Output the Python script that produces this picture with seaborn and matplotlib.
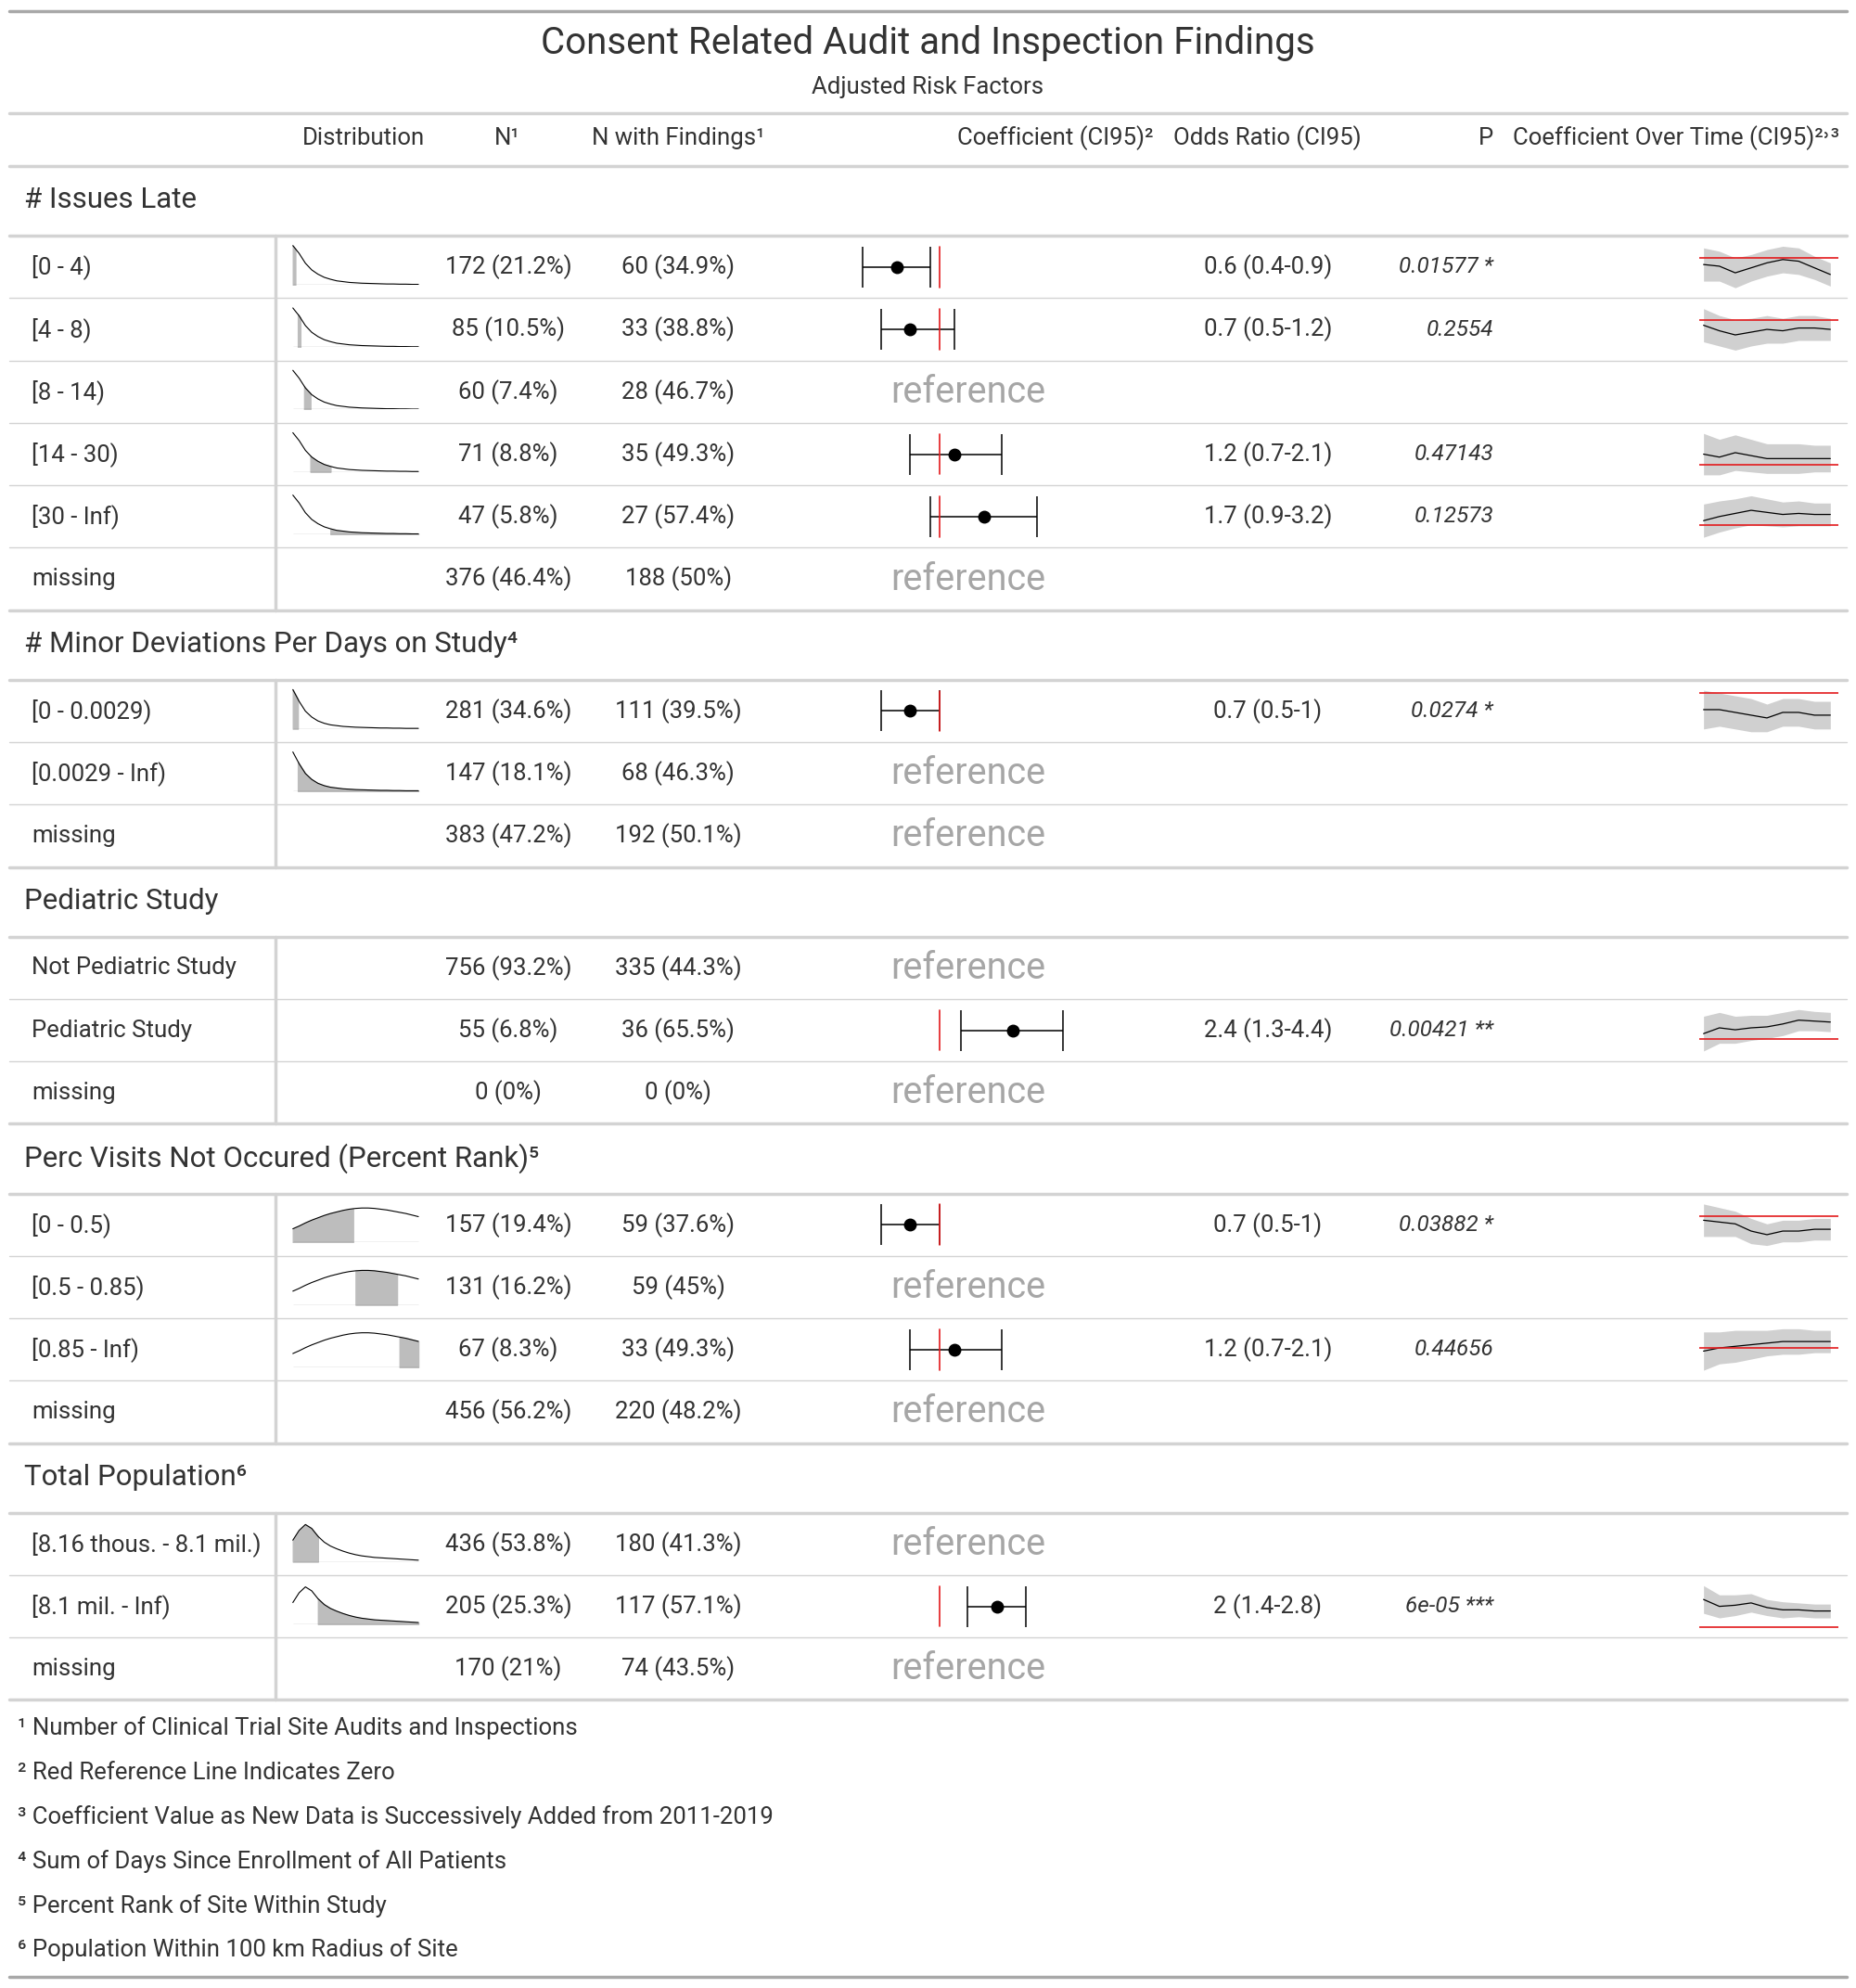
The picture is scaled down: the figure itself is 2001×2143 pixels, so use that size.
import matplotlib
matplotlib.use("Agg")
import matplotlib.pyplot as plt
import numpy as np
import seaborn as sns

sns.set_style("white")
plt.rcParams["font.family"] = ["Roboto", "DejaVu Sans"]

W, H = 1464, 1568
TXT = "#333333"
GRID = "#d3d3d3"

title = "Consent Related Audit and Inspection Findings"
subtitle = "Adjusted Risk Factors"

groups = ["# Issues Late", "# Minor Deviations Per Days on Study⁴", "Pediatric Study",
          "Perc Visits Not Occured (Percent Rank)⁵", "Total Population⁶"]
labels = [
    ["[0 - 4)", "[4 - 8)", "[8 - 14)", "[14 - 30)", "[30 - Inf)", "missing"],
    ["[0 - 0.0029)", "[0.0029 - Inf)", "missing"],
    ["Not Pediatric Study", "Pediatric Study", "missing"],
    ["[0 - 0.5)", "[0.5 - 0.85)", "[0.85 - Inf)", "missing"],
    ["[8.16 thous. - 8.1 mil.)", "[8.1 mil. - Inf)", "missing"],
]
n_col = [
    ["172 (21.2%)", "85 (10.5%)", "60 (7.4%)", "71 (8.8%)", "47 (5.8%)", "376 (46.4%)"],
    ["281 (34.6%)", "147 (18.1%)", "383 (47.2%)"],
    ["756 (93.2%)", "55 (6.8%)", "0 (0%)"],
    ["157 (19.4%)", "131 (16.2%)", "67 (8.3%)", "456 (56.2%)"],
    ["436 (53.8%)", "205 (25.3%)", "170 (21%)"],
]
nf_col = [
    ["60 (34.9%)", "33 (38.8%)", "28 (46.7%)", "35 (49.3%)", "27 (57.4%)", "188 (50%)"],
    ["111 (39.5%)", "68 (46.3%)", "192 (50.1%)"],
    ["335 (44.3%)", "36 (65.5%)", "0 (0%)"],
    ["59 (37.6%)", "59 (45%)", "33 (49.3%)", "220 (48.2%)"],
    ["180 (41.3%)", "117 (57.1%)", "74 (43.5%)"],
]
# odds ratio, lower, upper (None = reference)
odds = [
    [(0.6, 0.4, 0.9), (0.7, 0.5, 1.2), None, (1.2, 0.7, 2.1), (1.7, 0.9, 3.2), None],
    [(0.7, 0.5, 1.0), None, None],
    [None, (2.4, 1.3, 4.4), None],
    [(0.7, 0.5, 1.0), None, (1.2, 0.7, 2.1), None],
    [None, (2.0, 1.4, 2.8), None],
]
or_text = [
    ["0.6 (0.4-0.9)", "0.7 (0.5-1.2)", "", "1.2 (0.7-2.1)", "1.7 (0.9-3.2)", ""],
    ["0.7 (0.5-1)", "", ""],
    ["", "2.4 (1.3-4.4)", ""],
    ["0.7 (0.5-1)", "", "1.2 (0.7-2.1)", ""],
    ["", "2 (1.4-2.8)", ""],
]
p_text = [
    ["0.01577 *", "0.2554", "", "0.47143", "0.12573", ""],
    ["0.0274 *", "", ""],
    ["", "0.00421 **", ""],
    ["0.03882 *", "", "0.44656", ""],
    ["", "6e-05 ***", ""],
]
# distribution curves (density shape per variable) and shaded fraction per row
dist_curves = [
    [1.0, 0.8, 0.55, 0.38, 0.27, 0.19, 0.14, 0.1, 0.08, 0.06, 0.05, 0.04, 0.035, 0.03, 0.025, 0.02, 0.02, 0.015, 0.015, 0.01, 0.01],
    [1.0, 0.7, 0.45, 0.3, 0.2, 0.14, 0.1, 0.08, 0.06, 0.05, 0.04, 0.035, 0.03, 0.025, 0.02, 0.02, 0.015, 0.015, 0.01, 0.01, 0.01],
    None,
    [0.35, 0.42, 0.5, 0.57, 0.63, 0.69, 0.74, 0.78, 0.82, 0.85, 0.87, 0.88, 0.88, 0.87, 0.85, 0.83, 0.8, 0.77, 0.74, 0.7, 0.66],
    [0.55, 0.8, 0.95, 0.85, 0.65, 0.5, 0.4, 0.33, 0.27, 0.22, 0.18, 0.15, 0.13, 0.11, 0.1, 0.09, 0.08, 0.07, 0.06, 0.05, 0.04],
]
dist_shade = [
    [(0.0, 0.02), (0.04, 0.06), (0.09, 0.14), (0.14, 0.3), (0.3, 1.0), None],
    [(0.0, 0.04), (0.04, 1.0), None],
    [None, None, None],
    [(0.0, 0.48), (0.5, 0.83), (0.85, 1.0), None],
    [(0.0, 0.2), (0.2, 1.0), None],
]
years = list(range(2011, 2020))
trend_coef = [
    [-0.2, -0.25, -0.45, -0.3, -0.15, -0.05, -0.1, -0.3, -0.5],
    [-0.2, -0.4, -0.55, -0.45, -0.35, -0.4, -0.3, -0.3, -0.35],
    [0.35, 0.25, 0.4, 0.3, 0.2, 0.2, 0.2, 0.2, 0.2],
    [0.2, 0.4, 0.55, 0.7, 0.6, 0.5, 0.55, 0.5, 0.5],
    [-0.3, -0.3, -0.35, -0.4, -0.45, -0.35, -0.35, -0.4, -0.4],
    [0.3, 0.6, 0.5, 0.6, 0.65, 0.8, 1.0, 0.95, 0.9],
    [-0.1, -0.15, -0.2, -0.4, -0.5, -0.4, -0.4, -0.35, -0.35],
    [-0.1, 0.0, 0.05, 0.1, 0.15, 0.2, 0.2, 0.2, 0.2],
    [1.2, 0.9, 0.95, 1.05, 0.85, 0.75, 0.75, 0.7, 0.7],
]
trend_half = [
    [0.5, 0.45, 0.45, 0.4, 0.4, 0.4, 0.4, 0.35, 0.35],
    [0.6, 0.55, 0.55, 0.5, 0.5, 0.45, 0.45, 0.45, 0.4],
    [0.7, 0.6, 0.6, 0.55, 0.5, 0.5, 0.5, 0.45, 0.45],
    [0.8, 0.75, 0.7, 0.7, 0.65, 0.6, 0.6, 0.55, 0.55],
    [0.35, 0.3, 0.3, 0.3, 0.25, 0.25, 0.25, 0.25, 0.25],
    [0.9, 0.8, 0.7, 0.65, 0.6, 0.6, 0.55, 0.5, 0.5],
    [0.45, 0.4, 0.35, 0.35, 0.3, 0.3, 0.3, 0.3, 0.3],
    [0.6, 0.5, 0.5, 0.45, 0.4, 0.4, 0.4, 0.35, 0.35],
    [0.6, 0.5, 0.45, 0.4, 0.35, 0.35, 0.3, 0.3, 0.3],
]
footnotes = [
    "¹ Number of Clinical Trial Site Audits and Inspections",
    "² Red Reference Line Indicates Zero",
    "³ Coefficient Value as New Data is Successively Added from 2011-2019",
    "⁴ Sum of Days Since Enrollment of All Patients",
    "⁵ Percent Rank of Site Within Study",
    "⁶ Population Within 100 km Radius of Site",
]

BODY = 18.5
fig = plt.figure(figsize=(20.01, 21.43), dpi=100)
ax = fig.add_axes([0, 0, 1, 1])
ax.set_xlim(0, W)
ax.set_ylim(H, 0)
ax.axis("off")


def inset(x0, y0, x1, y1):
    a = fig.add_axes([x0 / W, 1 - y1 / H, (x1 - x0) / W, (y1 - y0) / H])
    a.axis("off")
    return a


def hline(y, lw=1, c=GRID):
    ax.plot([7, 1457], [y, y], color=c, lw=lw)


hline(9, 2.5, "#a8a8a8")
ax.text(732, 34, title, ha="center", va="center", fontsize=29, color=TXT)
ax.text(732, 69, subtitle, ha="center", va="center", fontsize=18.5, color=TXT)
hline(89, 2.5)
hy = 109
ax.text(287, hy, "Distribution", ha="center", va="center", fontsize=BODY, color=TXT)
ax.text(400, hy, "N¹", ha="center", va="center", fontsize=BODY, color=TXT)
ax.text(535, hy, "N with Findings¹", ha="center", va="center", fontsize=BODY, color=TXT)
ax.text(910, hy, "Coefficient (CI95)²", ha="right", va="center", fontsize=BODY, color=TXT)
ax.text(1000, hy, "Odds Ratio (CI95)", ha="center", va="center", fontsize=BODY, color=TXT)
ax.text(1178, hy, "P", ha="right", va="center", fontsize=BODY, color=TXT)
ax.text(1193, hy, "Coefficient Over Time (CI95)²˒³", ha="left", va="center", fontsize=BODY, color=TXT)
hline(131, 2.5)

FX0, FX1, F0, FS = 660, 870, 741, 66.0  # forest column in pixels, zero at 741
ROWH = 49.2
y = 131
trend_i = 0
for g, gname in enumerate(groups):
    ax.text(19, y + 27, gname, ha="left", va="center", fontsize=22.5, color=TXT)
    y += 55
    hline(y, 2.5)
    top = y
    for r, lab in enumerate(labels[g]):
        cy = y + ROWH / 2
        ax.text(25, cy, lab, ha="left", va="center", fontsize=BODY, color=TXT)
        ax.text(401, cy, n_col[g][r], ha="center", va="center", fontsize=BODY, color=TXT)
        ax.text(535, cy, nf_col[g][r], ha="center", va="center", fontsize=BODY, color=TXT)
        sh = dist_shade[g][r]
        if sh is not None:
            d = inset(230, cy - 20, 331, cy + 14)
            xs = np.linspace(0, 1, len(dist_curves[g]))
            ys = np.array(dist_curves[g])
            d.plot(xs, ys, color="black", lw=0.8)
            d.plot([0, 1], [0, 0], color="black", lw=0.8)
            m = (xs >= sh[0]) & (xs <= sh[1])
            fx = np.concatenate([[sh[0]], xs[m], [sh[1]]])
            fy = np.interp(fx, xs, ys)
            d.fill_between(fx, 0, fy, color="#bdbdbd")
            d.set_xlim(-0.01, 1.01)
            d.set_ylim(0, 1.1)
        o = odds[g][r]
        if o is None:
            ax.text(764, cy, "reference", ha="center", va="center", fontsize=28.5, color="#a6a6a6")
        else:
            f = inset(FX0, cy - 20, FX1, cy + 20)
            f.set_xlim((FX0 - F0) / FS, (FX1 - F0) / FS)
            f.set_ylim(-1, 1)
            lo, mid, hi = np.log(o[1]), np.log(o[0]), np.log(o[2])
            f.errorbar([mid], [0], xerr=[[mid - lo], [hi - mid]], fmt="o", color="black",
                       ms=9, capsize=16, lw=1.1, capthick=1.1)
            f.axvline(0, color="#e31a1c", lw=1.2, ymin=0.1, ymax=0.9)
            ax.text(1000, cy, or_text[g][r], ha="center", va="center", fontsize=BODY, color=TXT)
            ax.text(1178, cy, p_text[g][r], ha="right", va="center", fontsize=17.5,
                    color=TXT, style="italic")
            tc = np.array(trend_coef[trend_i])
            th = np.array(trend_half[trend_i])
            t = inset(1340, cy - 18, 1450, cy + 18)
            t.fill_between(years, tc - th, tc + th, color="#d0d0d0", lw=0)
            t.plot(years, tc, color="black", lw=0.9)
            t.axhline(0, color="#e31a1c", lw=1.2)
            t.set_xlim(2010.7, 2019.5)
            trend_i += 1
        y += ROWH
        if r < len(labels[g]) - 1:
            hline(y, 1)
    hline(y, 2.5)
    ax.plot([217, 217], [top, y], color=GRID, lw=2.5)

for i, fn in enumerate(footnotes):
    ax.text(14, 1363 + 35 * i, fn, ha="left", va="center", fontsize=18.5, color=TXT)
hline(1559, 2.5, "#a8a8a8")

fig.savefig("out.png", dpi=100)
